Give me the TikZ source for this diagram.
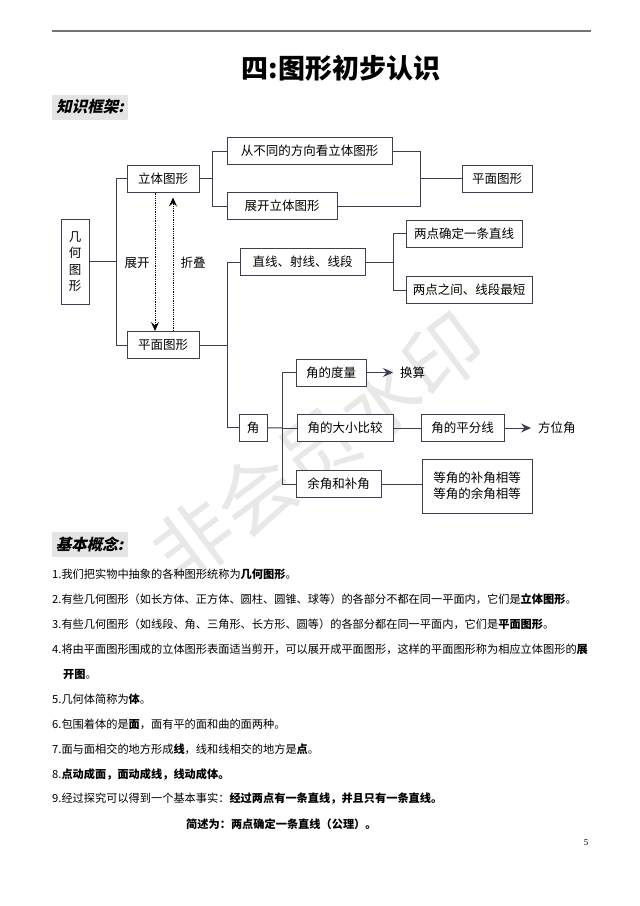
\documentclass[tikz,border=0pt]{standalone}
\usepackage{fontspec}
\setmainfont{Noto Sans CJK SC}
\newfontfamily\headfont[FakeSlant=0.22]{Noto Sans CJK SC}
\newfontfamily\pagefont{Liberation Serif}
\usepackage{tikz}
\usetikzlibrary{positioning, calc, arrows.meta}
\definecolor{linecol}{HTML}{3E3E52}
\definecolor{headgray}{HTML}{E4E4E4}
\newcommand{\boxfont}{\fontsize{12.5pt}{16pt}\selectfont}
\newcommand{\stackfont}{\fontsize{12.5pt}{16.5pt}\selectfont}
\newcommand{\linefont}{\fontsize{11.2pt}{14pt}\selectfont}
\tikzset{
	mapbox/.style={
			draw=linecol,
			line width=1pt,
			fill=white,
			inner sep=2pt,
			minimum height=27pt,
			font=\boxfont
		},
	plainlabel/.style={
			inner sep=1pt,
			font=\boxfont
		},
	branch/.style={
			draw=linecol,
			line width=1pt
		},
	arrowline/.style={
			branch,
			shorten >=6pt,
			-{Stealth[length=10pt,width=9pt,inset=3.5pt]}
		},
	dotarrow/.style={
			draw=black,
			line width=0.8pt,
			densely dotted,
			-{Stealth[length=9pt,width=8pt,inset=3.5pt]}
		},
	headbox/.style={
			fill=headgray,
			inner sep=3pt,
			minimum width=76pt,
			minimum height=25pt,
			font=\fontsize{15.5pt}{18pt}\headfont\bfseries
		},
	textline/.style={
			anchor=west,
			inner sep=0pt,
			font=\linefont
		}
}

\begin{document}
\begin{tikzpicture}[x=1pt, y=-1pt]
\useasboundingbox[fill=white] (0,0) rectangle (640,906);

% watermark
\node[rotate=37, text=black!9, font=\fontsize{78pt}{80pt}\selectfont] (mark) at (318,448) {非会员水印};

\draw[black!55, line width=1.5pt] (52,31) -- (591,31);
\node[font=\fontsize{27pt}{30pt}\selectfont\bfseries] (title) at (341,68) {四:图形初步认识};
\node[headbox] (head1) at (90,107) {知识框架:};

% knowledge map
\node[mapbox, minimum width=28pt, minimum height=85pt, align=center, font=\stackfont] (jihe) at (75,261.5) {几\\何\\图\\形};
\node[mapbox, minimum width=72pt] (liti) at (163,178.5) {立体图形};
\node[mapbox, minimum width=72pt] (pingmian) at (163,345) {平面图形};
\node[mapbox, minimum width=165pt] (kan) at (309.5,151) {从不同的方向看立体图形};
\node[mapbox, minimum width=110pt] (zhankai) at (282,206) {展开立体图形};
\node[mapbox, minimum width=70pt] (pingmian2) at (497,178.5) {平面图形};
\node[mapbox, minimum width=125pt] (zhixian) at (302.5,262) {直线、射线、线段};
\node[mapbox, minimum width=116pt] (liangdian1) at (464,233.5) {两点确定一条直线};
\node[mapbox, minimum width=126pt] (liangdian2) at (469,290) {两点之间、线段最短};
\node[mapbox, minimum width=28pt] (jiao) at (253,427.5) {角};
\node[mapbox, minimum width=70pt] (duliang) at (331,372.5) {角的度量};
\node[mapbox, minimum width=96pt] (daxiao) at (345,428) {角的大小比较};
\node[mapbox, minimum width=83pt] (pingfen) at (462.5,428) {角的平分线};
\node[mapbox, minimum width=85pt] (yujiao) at (338.5,484) {余角和补角};
\node[mapbox, minimum width=110pt, minimum height=54pt, align=left] (dengjiao) at (477,486) {等角的补角相等\\等角的余角相等};
\node[plainlabel, anchor=west] (huansuan) at (399,372.5) {换算};
\node[plainlabel, anchor=west] (fangwei) at (537,428) {方位角};
\node[plainlabel] (zhankaitext) at (137,263) {展开};
\node[plainlabel] (zhedie) at (193,263) {折叠};

\coordinate (j0) at (116,261.5);
\coordinate (j1) at (212,178.5);
\coordinate (j2) at (420,178.5);
\coordinate (j3) at (227,345);
\coordinate (j4) at (393,262);
\coordinate (j5) at (282,428);

\draw[branch] (jihe) -- (j0);
\draw[branch] (j0) |- (liti.west);
\draw[branch] (j0) |- (pingmian.west);
\draw[branch] (liti) -- (j1);
\draw[branch] (j1) |- (kan.west);
\draw[branch] (j1) |- (zhankai.west);
\draw[branch] (kan.east) -| (j2);
\draw[branch] (zhankai.east) -| (j2);
\draw[branch] (j2) -- (pingmian2.west);
\draw[branch] (pingmian) -- (j3);
\draw[branch] (j3) |- (zhixian.west);
\draw[branch] (j3) |- (jiao.west);
\draw[branch] (zhixian) -- (j4);
\draw[branch] (j4) |- (liangdian1.west);
\draw[branch] (j4) |- (liangdian2.west);
\draw[branch] (jiao) -- (j5);
\draw[branch] (j5) |- (duliang.west);
\draw[branch] (j5) -- (daxiao.west);
\draw[branch] (j5) |- (yujiao.west);
\draw[branch] (daxiao) -- (pingfen);
\draw[branch] (yujiao.east) -- (yujiao.east -| dengjiao.west);
\draw[arrowline] (duliang) -- (huansuan);
\draw[arrowline] (pingfen) -- (fangwei);

\draw[dotarrow] ([xshift=-8pt]liti.south) -- ([xshift=-8pt]pingmian.north);
\draw[dotarrow] ([xshift=10pt]pingmian.north) -- ([xshift=10pt,yshift=-5pt]liti.south);

% basic concepts
\node[headbox] (head2) at (89.5,544.5) {基本概念:};
\node[textline] (t1) at (52,574) {1.我们把实物中抽象的各种图形统称为\textbf{几何图形}。};
\node[textline] (t2) at (52,599) {2.有些几何图形（如长方体、正方体、圆柱、圆锥、球等）的各部分不都在同一平面内，它们是\textbf{立体图形}。};
\node[textline] (t3) at (52,624) {3.有些几何图形（如线段、角、三角形、长方形、圆等）的各部分都在同一平面内，它们是\textbf{平面图形}。};
\node[textline] (t4) at (52,649) {4.将由平面图形围成的立体图形表面适当剪开，可以展开成平面图形，这样的平面图形称为相应立体图形的\textbf{展}};
\node[textline] (t4b) at (63,674) {\textbf{开图}。};
\node[textline] (t5) at (52,699) {5.几何体简称为\textbf{体}。};
\node[textline] (t6) at (52,724) {6.包围着体的是\textbf{面}，面有平的面和曲的面两种。};
\node[textline] (t7) at (52,749) {7.面与面相交的地方形成\textbf{线}，线和线相交的地方是\textbf{点}。};
\node[textline] (t8) at (52,774) {8.\textbf{点动成面，面动成线，线动成体。}};
\node[textline] (t9) at (52,799) {9.经过探究可以得到一个基本事实：\textbf{经过两点有一条直线，并且只有一条直线。}};
\node[textline] (t10) at (186,824) {\textbf{简述为：两点确定一条直线（公理）。}};
\node[font=\fontsize{9pt}{10pt}\pagefont] (page) at (586,843) {5};

\end{tikzpicture}
\end{document}
